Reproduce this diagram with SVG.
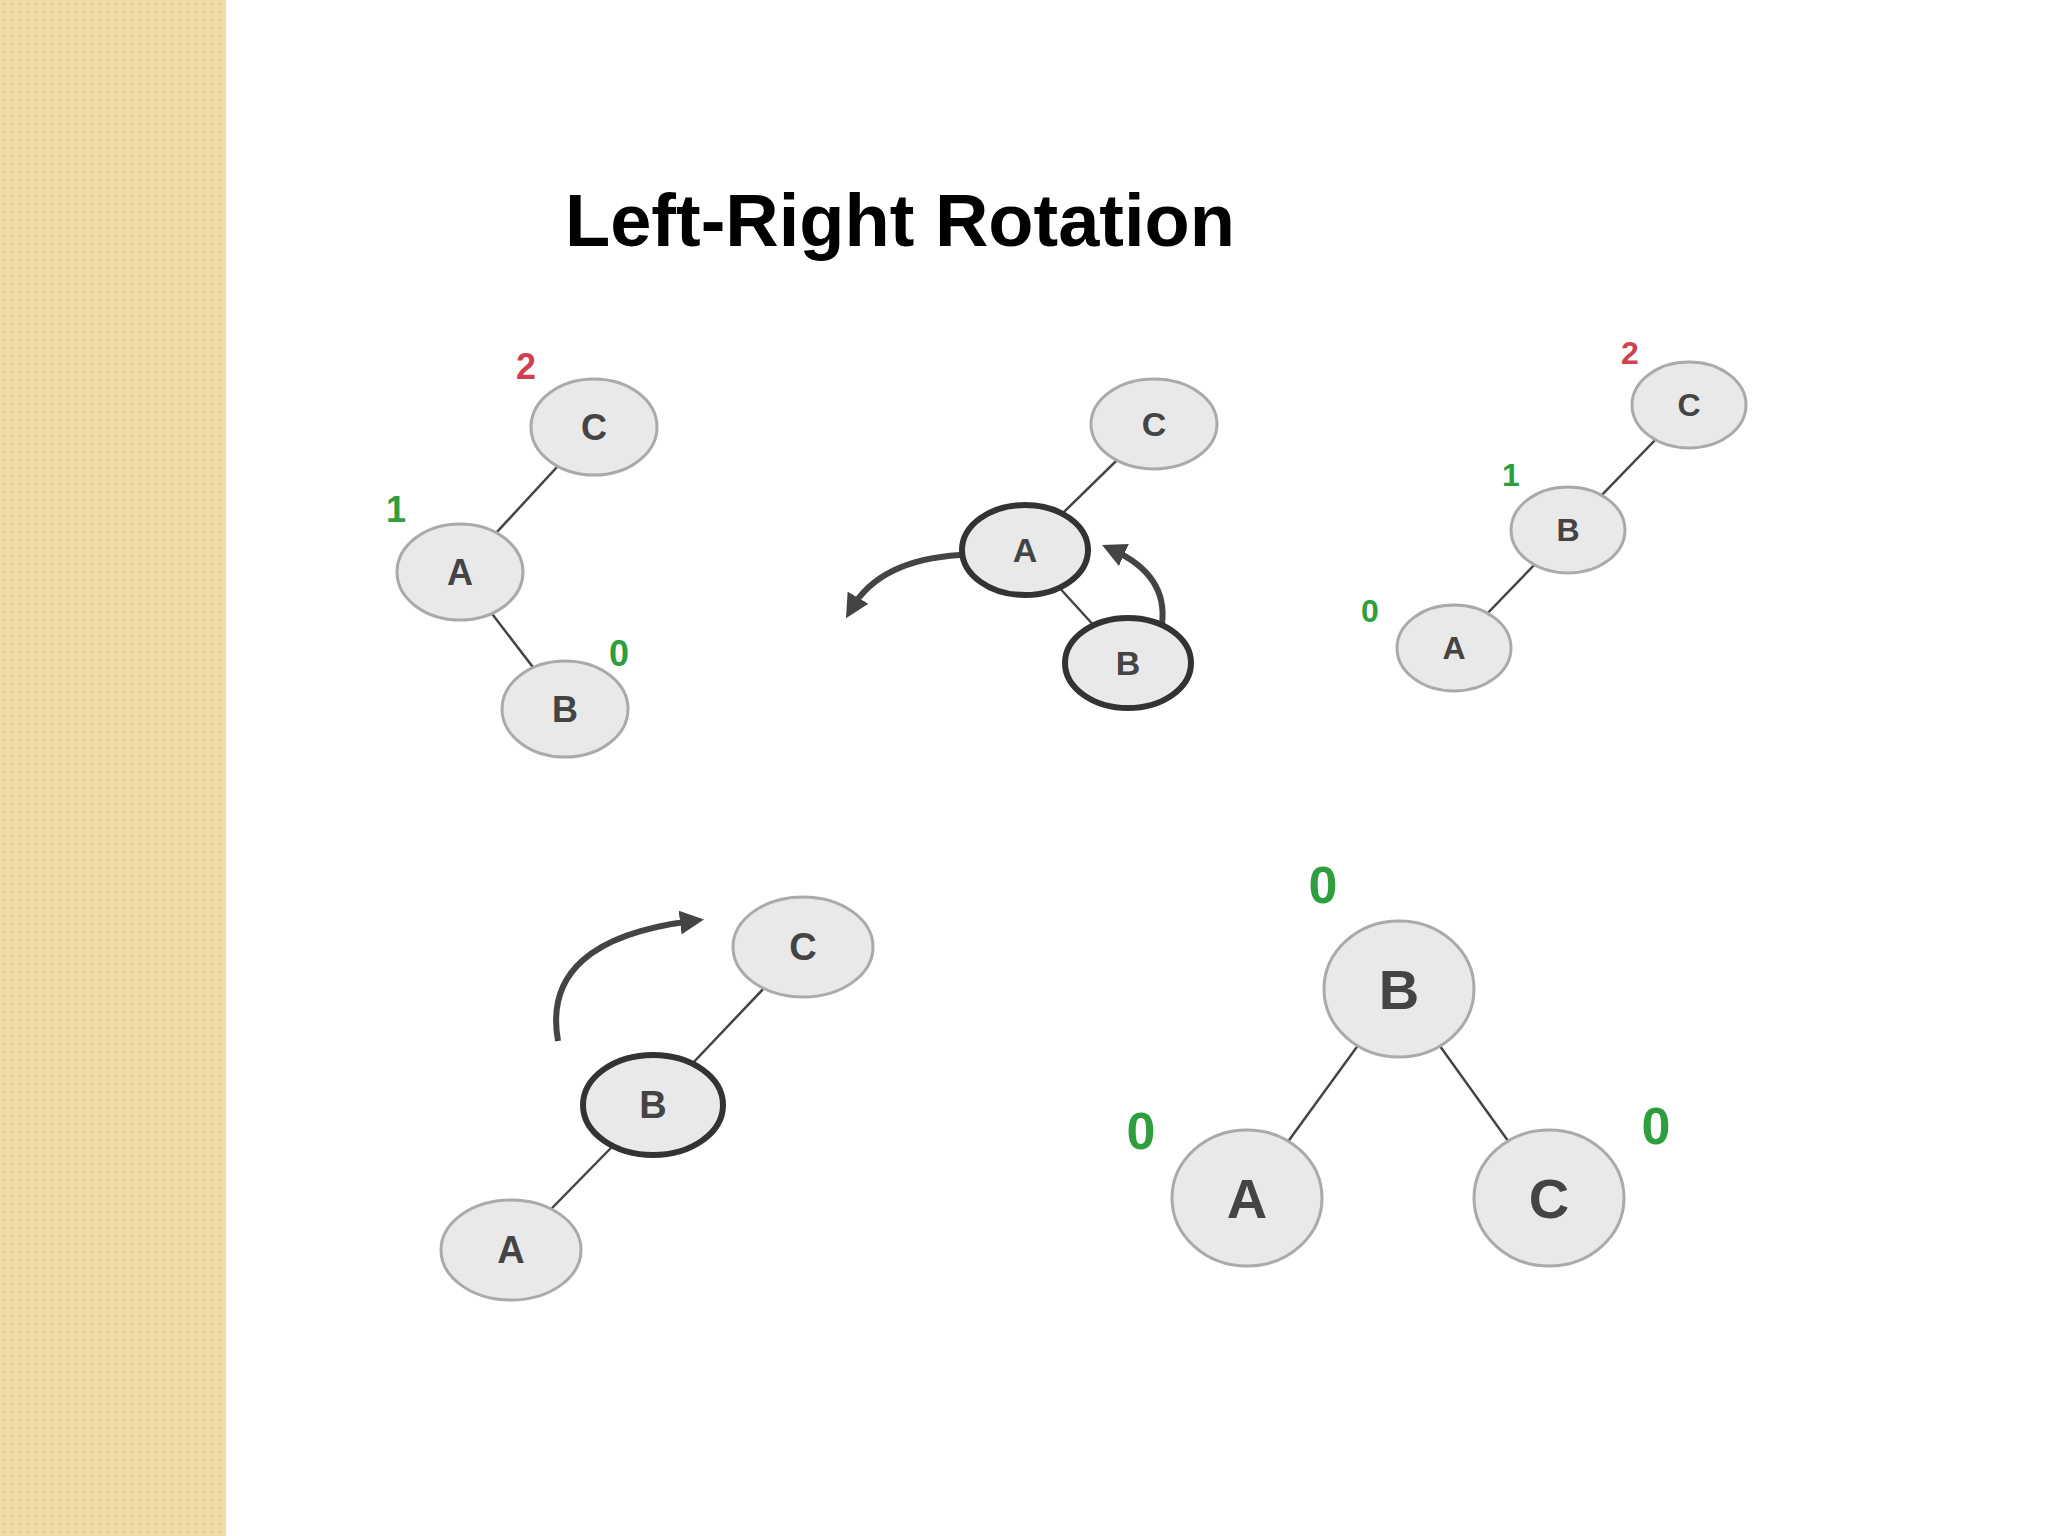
<svg xmlns="http://www.w3.org/2000/svg" width="2048" height="1536" viewBox="0 0 2048 1536">
<defs>
<pattern id="dots" width="8" height="8" patternUnits="userSpaceOnUse"><rect width="8" height="8" fill="#f1dcaa"/><circle cx="4" cy="4" r="1.6" fill="#e4c98c"/></pattern>
<marker id="ah" viewBox="0 0 10 10" refX="5" refY="5" markerWidth="4" markerHeight="4" orient="auto"><path d="M0,0 L10,5 L0,10 z" fill="#444"/></marker>
<style>
.n{fill:#e9e9e9;stroke:#aaa;stroke-width:3}
.b{fill:#e9e9e9;stroke:#333;stroke-width:6}
.t{font-family:"Liberation Sans",Arial,sans-serif;font-weight:bold;fill:#444;text-anchor:middle;dominant-baseline:central}
.g{font-family:"Liberation Sans",Arial,sans-serif;font-weight:bold;fill:#2e9e3e;text-anchor:middle;dominant-baseline:central}
.r{font-family:"Liberation Sans",Arial,sans-serif;font-weight:bold;fill:#d04050;text-anchor:middle;dominant-baseline:central}
.e{stroke:#444;stroke-width:2.5;fill:none}
.a{stroke:#444;stroke-width:6;fill:none;marker-end:url(#ah)}
</style>
</defs>
<rect width="2048" height="1536" fill="#fff"/>
<rect width="226" height="1536" fill="url(#dots)"/>
<text x="900" y="246" font-family="Liberation Sans,Arial,sans-serif" font-weight="bold" font-size="74" text-anchor="middle" fill="#000">Left-Right Rotation</text>
<g id="connectors">
<line class="e" x1="594" y1="427" x2="460" y2="572"/><line class="e" x1="460" y1="572" x2="565" y2="709"/>
<line class="e" x1="1154" y1="424" x2="1025" y2="550"/><line class="e" x1="1025" y1="550" x2="1128" y2="663"/>
<line class="e" x1="1689" y1="405" x2="1568" y2="530"/><line class="e" x1="1568" y1="530" x2="1454" y2="648"/>
<line class="e" x1="803" y1="947" x2="653" y2="1105"/><line class="e" x1="653" y1="1105" x2="511" y2="1250"/>
<line class="e" x1="1399" y1="989" x2="1247" y2="1198"/><line class="e" x1="1399" y1="989" x2="1549" y2="1198"/>
<path class="a" d="M960,555 Q880,560 852,608"/>
<path class="a" d="M1162,624 Q1168,575 1113,550"/>
<path class="a" d="M558,1041 Q540,940 692,921"/>
</g>
<g id="t1">
<g id="t1C"><ellipse class="n" cx="594" cy="427" rx="63" ry="48"/><text class="t" x="594" y="427" font-size="36">C</text></g>
<g id="t1A"><ellipse class="n" cx="460" cy="572" rx="63" ry="48"/><text class="t" x="460" y="572" font-size="36">A</text></g>
<g id="t1B"><ellipse class="n" cx="565" cy="709" rx="63" ry="48"/><text class="t" x="565" y="709" font-size="36">B</text></g>
<text class="r" x="526" y="366" font-size="36">2</text><text class="g" x="396" y="509" font-size="36">1</text><text class="g" x="619" y="653" font-size="36">0</text>
</g>
<g id="t2">
<g id="t2C"><ellipse class="n" cx="1154" cy="424" rx="63" ry="45"/><text class="t" x="1154" y="424" font-size="34">C</text></g>
<g id="t2A"><ellipse class="b" cx="1025" cy="550" rx="63" ry="45"/><text class="t" x="1025" y="550" font-size="34">A</text></g>
<g id="t2B"><ellipse class="b" cx="1128" cy="663" rx="63" ry="45"/><text class="t" x="1128" y="663" font-size="34">B</text></g>
</g>
<g id="t3">
<g id="t3C"><ellipse class="n" cx="1689" cy="405" rx="57" ry="43"/><text class="t" x="1689" y="405" font-size="32">C</text></g>
<g id="t3B"><ellipse class="n" cx="1568" cy="530" rx="57" ry="43"/><text class="t" x="1568" y="530" font-size="32">B</text></g>
<g id="t3A"><ellipse class="n" cx="1454" cy="648" rx="57" ry="43"/><text class="t" x="1454" y="648" font-size="32">A</text></g>
<text class="r" x="1630" y="353" font-size="32">2</text><text class="g" x="1511" y="475" font-size="32">1</text><text class="g" x="1370" y="611" font-size="32">0</text>
</g>
<g id="t4">
<g id="t4C"><ellipse class="n" cx="803" cy="947" rx="70" ry="50"/><text class="t" x="803" y="947" font-size="38">C</text></g>
<g id="t4B"><ellipse class="b" cx="653" cy="1105" rx="70" ry="50"/><text class="t" x="653" y="1105" font-size="38">B</text></g>
<g id="t4A"><ellipse class="n" cx="511" cy="1250" rx="70" ry="50"/><text class="t" x="511" y="1250" font-size="38">A</text></g>
</g>
<g id="t5">
<g id="t5B"><ellipse class="n" cx="1399" cy="989" rx="75" ry="68"/><text class="t" x="1399" y="989" font-size="56">B</text></g>
<g id="t5A"><ellipse class="n" cx="1247" cy="1198" rx="75" ry="68"/><text class="t" x="1247" y="1198" font-size="56">A</text></g>
<g id="t5C"><ellipse class="n" cx="1549" cy="1198" rx="75" ry="68"/><text class="t" x="1549" y="1198" font-size="56">C</text></g>
<text class="g" x="1323" y="885" font-size="52">0</text><text class="g" x="1141" y="1131" font-size="52">0</text><text class="g" x="1656" y="1126" font-size="52">0</text>
</g>
</svg>
